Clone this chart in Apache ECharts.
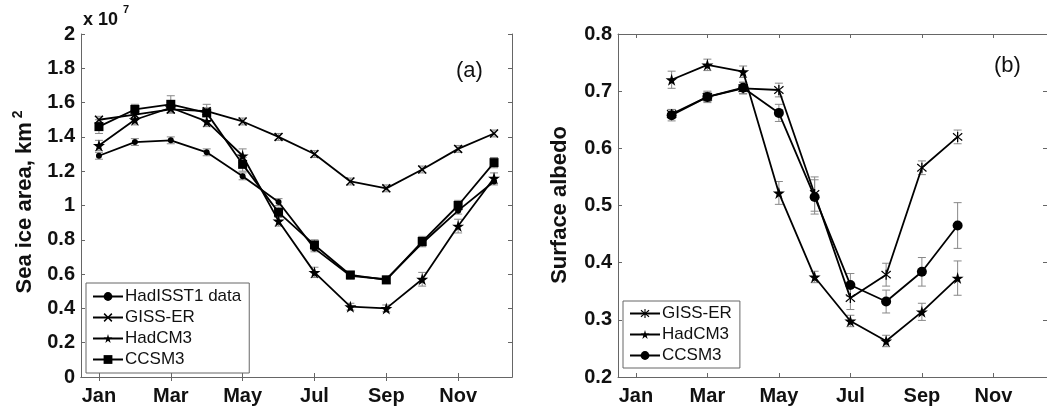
<!DOCTYPE html>
<html><head><meta charset="utf-8">
<script src="https://cdn.jsdelivr.net/npm/echarts@6/dist/echarts.min.js"></script>
<style>html,body{margin:0;padding:0;background:#fff}#c{width:1047px;height:412px}</style>
</head><body><div id="c"></div>
<script>
const months = ['Jan','Feb','Mar','Apr','May','Jun','Jul','Aug','Sep','Oct','Nov','Dec'];
// Panel (a): sea ice area, units of 1e7 km^2
const iceHadISST = [1.29,1.37,1.38,1.31,1.17,1.02,0.75,0.59,0.57,0.78,0.97,1.14];
const iceGISS    = [1.50,1.53,1.56,1.55,1.49,1.40,1.30,1.14,1.10,1.21,1.33,1.42];
const iceHadCM3  = [1.35,1.50,1.57,1.49,1.29,0.91,0.61,0.41,0.40,0.57,0.88,1.16];
const iceCCSM3   = [1.46,1.56,1.59,1.54,1.24,0.96,0.77,0.595,0.566,0.79,1.00,1.25];
const iceErrHadISST = [0.02,0.02,0.02,0.02,0.02,0.02,0.02,0.02,0.02,0.02,0.02,0.02];
const iceErrGISS    = [0.02,0.02,0.02,0.02,0.02,0.02,0.02,0.02,0.02,0.02,0.02,0.02];
const iceErrHadCM3  = [0.03,0.03,0.03,0.03,0.04,0.03,0.03,0.02,0.02,0.04,0.04,0.03];
const iceErrCCSM3   = [0.04,0.03,0.05,0.05,0.04,0.03,0.03,0.02,0.02,0.03,0.03,0.03];
// Panel (b): surface albedo (Feb..Oct)
const albGISS   = [null,0.660,0.690,0.705,0.702,0.520,0.338,0.379,0.566,0.620,null,null];
const albHadCM3 = [null,0.720,0.746,0.734,0.522,0.375,0.298,0.263,0.314,0.373,null,null];
const albCCSM3  = [null,0.658,0.690,0.706,0.662,0.515,0.361,0.332,0.384,0.465,null,null];
const albErrGISS   = [null,0.008,0.008,0.01,0.012,0.03,0.02,0.02,0.012,0.012,null,null];
const albErrHadCM3 = [null,0.015,0.01,0.01,0.02,0.01,0.01,0.01,0.015,0.03,null,null];
const albErrCCSM3  = [null,0.01,0.01,0.01,0.015,0.03,0.02,0.02,0.025,0.04,null,null];

const STAR = 'path://M50,0 L61,35 L98,35 L68,57 L79,91 L50,70 L21,91 L32,57 L2,35 L39,35 Z';
const XMARK = 'path://M0,12 L12,0 L50,38 L88,0 L100,12 L62,50 L100,88 L88,100 L50,62 L12,100 L0,88 L38,50 Z';
const AST = 'path://M44,0 L56,0 L56,40 L90,8 L98,18 L60,50 L98,82 L90,92 L56,60 L56,100 L44,100 L44,60 L10,92 L2,82 L40,50 L2,18 L10,8 L44,40 Z';

const FONT = 'Liberation Sans';
const axisCol = '#666';

function errSeries(xi, yi, vals, errs) {
  const data = [];
  vals.forEach((v, i) => { if (v != null) data.push([i, v, errs[i]]); });
  return {
    type: 'custom', xAxisIndex: xi, yAxisIndex: yi, silent: true, z: 1,
    data: data, encode: {x: 0, y: 1},
    renderItem: function (params, api) {
      const i = api.value(0), v = api.value(1), e = api.value(2);
      const hi = api.coord([i, v + e]), lo = api.coord([i, v - e]);
      const w = 4;
      return {type: 'group', children: [
        {type: 'line', shape: {x1: hi[0], y1: hi[1], x2: lo[0], y2: lo[1]}, style: {stroke: '#888', lineWidth: 1}},
        {type: 'line', shape: {x1: hi[0]-w, y1: hi[1], x2: hi[0]+w, y2: hi[1]}, style: {stroke: '#888', lineWidth: 1}},
        {type: 'line', shape: {x1: lo[0]-w, y1: lo[1], x2: lo[0]+w, y2: lo[1]}, style: {stroke: '#888', lineWidth: 1}}
      ]};
    }
  };
}
function lineSeries(name, xi, yi, data, symbol, size) {
  return {
    name: name, type: 'line', xAxisIndex: xi, yAxisIndex: yi, data: data,
    symbol: symbol, symbolSize: size, showAllSymbol: true, z: 3,
    lineStyle: {color: '#000', width: 1.8}, itemStyle: {color: '#000'},
    connectNulls: false, animation: false
  };
}
function xAx(gi, top) {
  return {
    type: 'category', gridIndex: gi, data: months, position: top ? 'top' : 'bottom', boundaryGap: true,
    axisLine: {lineStyle: {color: axisCol, width: 1}},
    axisTick: {show: true, inside: true, length: 4, interval: 1, alignWithLabel: true, lineStyle: {color: axisCol}},
    axisLabel: top ? {show: false} : {show: true, interval: 1, color: '#111', fontFamily: FONT, fontWeight: 'bold', fontSize: 20, margin: 9},
    splitLine: {show: false}
  };
}
function yAx(gi, right, min, max, interval) {
  return {
    type: 'value', gridIndex: gi, min: min, max: max, interval: interval, position: right ? 'right' : 'left',
    axisLine: {show: true, lineStyle: {color: axisCol, width: 1}},
    axisTick: {show: true, inside: true, length: 4, lineStyle: {color: axisCol}},
    axisLabel: right ? {show: false} : {show: true, color: '#111', fontFamily: FONT, fontWeight: 'bold', fontSize: 20, margin: 6,
      formatter: v => String(+v.toFixed(1))},
    splitLine: {show: false}
  };
}

const chart = echarts.init(document.getElementById('c'), null, {renderer: 'canvas'});
chart.setOption({
  animation: false,
  backgroundColor: '#fff',
  grid: [
    {left: 81, top: 34, width: 431, height: 343},
    {left: 618, top: 34, width: 429, height: 343}
  ],
  xAxis: [xAx(0, false), xAx(0, true), xAx(1, false), xAx(1, true)],
  yAxis: [yAx(0, false, 0, 2, 0.2), yAx(0, true, 0, 2, 0.2), yAx(1, false, 0.2, 0.8, 0.1), yAx(1, true, 0.2, 0.8, 0.1)],
  legend: [
    {
      left: 86, top: 283, orient: 'vertical', width: 160,
      data: ['HadISST1 data','GISS-ER','HadCM3','CCSM3'],
      itemWidth: 30, itemHeight: 11, itemGap: 4,
      borderColor: '#666', borderWidth: 1, backgroundColor: '#fff', padding: [5, 8, 5, 6],
      textStyle: {color: '#111', fontFamily: FONT, fontSize: 17, padding: [0,0,0,-3]},
      selectedMode: false
    },
    {
      left: 623, top: 301, orient: 'vertical',
      data: ['GISS-ER (b)','HadCM3 (b)','CCSM3 (b)'],
      formatter: n => n.replace(' (b)', ''),
      itemWidth: 30, itemHeight: 11, itemGap: 4,
      borderColor: '#666', borderWidth: 1, backgroundColor: '#fff', padding: [4, 8, 4, 6],
      textStyle: {color: '#111', fontFamily: FONT, fontSize: 17, padding: [0,0,0,-3]},
      selectedMode: false
    }
  ],
  series: [
    errSeries(0, 0, iceHadISST, iceErrHadISST),
    errSeries(0, 0, iceGISS, iceErrGISS),
    errSeries(0, 0, iceHadCM3, iceErrHadCM3),
    errSeries(0, 0, iceCCSM3, iceErrCCSM3),
    lineSeries('HadISST1 data', 0, 0, iceHadISST, 'circle', 6),
    lineSeries('GISS-ER', 0, 0, iceGISS, XMARK, 9),
    lineSeries('HadCM3', 0, 0, iceHadCM3, STAR, 12),
    lineSeries('CCSM3', 0, 0, iceCCSM3, 'rect', 9),
    errSeries(2, 2, albGISS, albErrGISS),
    errSeries(2, 2, albHadCM3, albErrHadCM3),
    errSeries(2, 2, albCCSM3, albErrCCSM3),
    lineSeries('GISS-ER (b)', 2, 2, albGISS, AST, 10),
    lineSeries('HadCM3 (b)', 2, 2, albHadCM3, STAR, 12),
    lineSeries('CCSM3 (b)', 2, 2, albCCSM3, 'circle', 10)
  ],
  graphic: [
    {type: 'text', left: 83, top: 11, style: {text: 'x 10', fontFamily: FONT, fontWeight: 'bold', fontSize: 18, fill: '#111'}},
    {type: 'text', left: 123, top: 4, style: {text: '7', fontFamily: FONT, fontWeight: 'bold', fontSize: 11, fill: '#111'}},
    {type: 'text', left: 456, top: 60, style: {text: '(a)', fontFamily: FONT, fontSize: 22, fill: '#111'}},
    {type: 'text', left: 994, top: 55, style: {text: '(b)', fontFamily: FONT, fontSize: 22, fill: '#111'}},
    {type: 'text', x: 25, y: 202, rotation: Math.PI / 2,
     style: {text: 'Sea ice area, km{s|2}', fontFamily: FONT, fontWeight: 'bold', fontSize: 22, fill: '#111',
       align: 'center', verticalAlign: 'middle',
       rich: {s: {fontFamily: FONT, fontWeight: 'bold', fontSize: 14, fill: '#111', verticalAlign: 'top', padding: [0,0,14,4]}}}},
    {type: 'text', x: 560, y: 205, rotation: Math.PI / 2,
     style: {text: 'Surface albedo', fontFamily: FONT, fontWeight: 'bold', fontSize: 22, fill: '#111',
       align: 'center', verticalAlign: 'middle'}}
  ]
});
</script></body></html>
